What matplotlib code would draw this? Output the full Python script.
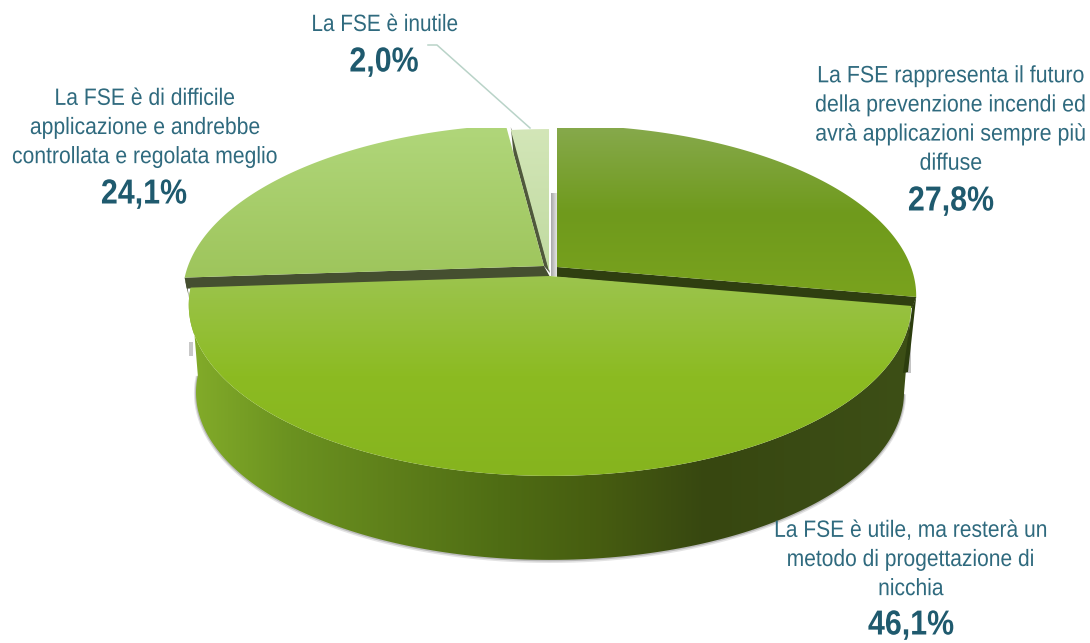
import numpy as np
import matplotlib
matplotlib.use("Agg")
import matplotlib.pyplot as plt
from matplotlib.colors import LinearSegmentedColormap
from matplotlib.patches import Polygon
from matplotlib.patheffects import AbstractPathEffect
from matplotlib.transforms import Affine2D

W, H = 1090, 643

# chart data
labels = [
    "La FSE rappresenta il futuro\ndella prevenzione incendi ed\navrà applicazioni sempre più\ndiffuse",
    "La FSE è utile, ma resterà un\nmetodo di progettazione di\nnicchia",
    "La FSE è di difficile\napplicazione e andrebbe\ncontrollata e regolata meglio",
    "La FSE è inutile",
]
values = [27.8, 46.1, 24.1, 2.0]
value_labels = ["27,8%", "46,1%", "24,1%", "2,0%"]

TEAL = "#2f6a7e"
TEAL_DARK = "#1f5a6e"
FONT = "Liberation Sans"

fig = plt.figure(figsize=(W / 100, H / 100), dpi=100)
ax = fig.add_axes([0, 0, 1, 1])
ax.set_xlim(0, W)
ax.set_ylim(H, 0)
ax.axis("off")


class Squeeze(AbstractPathEffect):
    # narrow the glyphs around a pixel column, no condensed font is installed
    def __init__(self, xc, sx):
        super().__init__()
        self.xc = xc
        self.sx = sx

    def draw_path(self, renderer, gc, tpath, affine, rgbFace=None):
        squeeze = Affine2D().translate(-self.xc, 0).scale(self.sx, 1).translate(self.xc, 0)
        renderer.draw_path(gc, tpath, affine + squeeze, rgbFace)


def rim(theta, cx, cy, R=356, scale=1.0):
    # circle seen in perspective, theta clockwise from 12 o'clock
    b = -0.1696
    u, v = np.sin(theta), -np.cos(theta)
    d = 1 + b * v
    return cx + R * scale * u / d, cy + 166 * scale * v / d


def vgrad(poly, colors, y0, y1, z):
    cmap = LinearSegmentedColormap.from_list("g", colors)
    im = ax.imshow(np.linspace(0, 1, 256)[:, None], cmap=cmap, extent=[0, W, y1, y0],
                   aspect="auto", zorder=z)
    p = Polygon(poly, closed=True, transform=ax.transData, fc="none", ec="none")
    ax.add_patch(p)
    im.set_clip_path(p)


def hgrad(poly, colors, x0, x1, z):
    cmap = LinearSegmentedColormap.from_list("g", colors)
    im = ax.imshow(np.linspace(0, 1, 256)[None, :], cmap=cmap, extent=[x0, x1, H, 0],
                   aspect="auto", zorder=z)
    p = Polygon(poly, closed=True, transform=ax.transData, fc="none", ec="none")
    ax.add_patch(p)
    im.set_clip_path(p)


def flat(pts, color, z=2):
    ax.add_patch(Polygon(pts, closed=True, fc=color, ec="none", zorder=z))


edges = np.cumsum([0] + values) / 100 * 2 * np.pi
apex = [(557, 267), (550, 276), (544, 266), (549, 271)]
reach = [354, 356, 356, 356]
tops = [
    ["#86a94b", "#6f9a1c", "#7aa31e"],
    ["#9cc44e", "#8cbb22", "#86b41e"],
    ["#b0d67a", "#9dc45a"],
    ["#d3e6b8", "#c0daa0"],
]
top_range = [(128, 300), (275, 476), (128, 285), (128, 272)]
walls = ["#2f3f10", "#3f4f22", "#454f30", "#555f40"]
depth = 88

# front wall of the big slice, with its soft shadow
t = np.linspace(edges[1], edges[2], 200)
x1, y1 = rim(t, *apex[1])
x2, y2 = rim(t, apex[1][0], apex[1][1] + depth, scale=0.98)
ax.plot(x2, y2 + 1, color="#909090", lw=3, alpha=0.25, zorder=0.5, solid_capstyle="butt")
ax.plot(x2, y2 + 0.5, color="#808080", lw=1.5, alpha=0.4, zorder=0.6, solid_capstyle="butt")
wall = np.r_[np.c_[x1, y1], np.c_[x2, y2][::-1]]
hgrad(wall, ["#84ad2a", "#6b9220", "#5e7f1a", "#4f6d14", "#465c10", "#374710", "#3a4b14", "#3d4f16"], 185, 915, 1)

# draw order: slices behind first, each with its dark cut face
for i in [3, 2, 0, 1]:
    t = np.linspace(edges[i], edges[i + 1], 120)
    cx, cy = apex[i]
    xs, ys = rim(t, cx, cy, R=reach[i])
    poly = np.r_[[[cx, cy]], np.c_[xs, ys]]
    if i == 0:
        flat([[cx, cy], [xs[-1], ys[-1]], [xs[-1] - 4, ys[-1] + 11], [cx, cy + 10]], walls[i])
        flat([[xs[-1], ys[-1]], [xs[-1] - 4, ys[-1] + 10], [903, 373], [908, 372]], "#2c3d0e")
        flat([[908, 340], [910.5, 340], [910.5, 373], [905, 373]], "#c4c4c4", z=0.7)
    if i == 2:
        flat([[cx, cy], [xs[0], ys[0]], [xs[0] + 2, ys[0] + 11], [cx + 6, cy + 11]], walls[i])
        flat([[xs[0], ys[0]], [xs[0] + 3, ys[0] + 10], [189, 298]], walls[i])
        flat([[189, 342], [193, 342], [193, 356], [189, 356]], "#c8c8c8", z=0.7)
        # dark face between the two slices at the back, open at the very top
        tip = (xs[-1] + 5, ys[-1] + 2)
        on_edge = (xs[-1] + 0.2 * (cx - xs[-1]), ys[-1] + 0.2 * (cy - ys[-1]))
        flat([tip, on_edge, (cx, cy), (cx + 6, cy + 7)], "#4f583c")
    vgrad(poly, tops[i], top_range[i][0], top_range[i][1], 3 + (i == 1))

# grey shadow in the gap next to the first slice
hgrad([[551, 193], [557, 193], [557, 276], [551, 276]], ["#a8a8a8", "#e6e6e6"], 551, 557, 2)

# leader of the smallest slice
ax.plot([428, 437, 530], [45, 45, 128], color="#b9d3c8", lw=1.1, zorder=6)

# text, anchored by hand as in the reference; squeezing happens around the anchor
pos = [(1087, 120), (911, 560), (12, 128), (385, 25)]
align = ["right", "center", "left", "center"]
val_pos = [(951, 201), (911, 625), (144, 194), (384, 62)]
squeeze = [0.905, 0.89, 0.895, 0.88]
for i in range(4):
    ax.text(pos[i][0], pos[i][1], labels[i], ha=align[i], multialignment="center", va="center",
            fontsize=17, family=FONT, color=TEAL, linespacing=1.42, zorder=7,
            path_effects=[Squeeze(pos[i][0], squeeze[i])])
    ax.text(val_pos[i][0], val_pos[i][1], value_labels[i], ha="center", va="center", fontsize=25,
            family=FONT, weight="bold", color=TEAL_DARK, zorder=7,
            path_effects=[Squeeze(val_pos[i][0], 0.875)])

fig.savefig("out.png", dpi=100)
